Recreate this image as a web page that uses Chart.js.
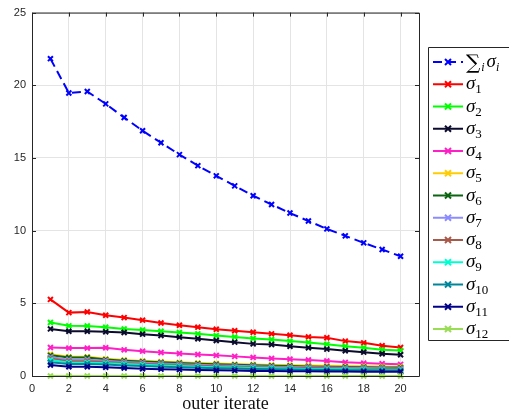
<!DOCTYPE html>
<html>
<head>
<meta charset="utf-8">
<script src="https://cdn.jsdelivr.net/npm/chart.js@4.4.1/dist/chart.umd.min.js"></script>
<style>
  html, body { margin: 0; padding: 0; background: #ffffff; }
  #wrap { width: 509px; height: 416px; position: relative; }
</style>
</head>
<body>
<div id="wrap"><canvas id="c" width="509" height="416"></canvas></div>
<script>
// outer iterations
const iterates = [1,2,3,4,5,6,7,8,9,10,11,12,13,14,15,16,17,18,19,20];

// singular values per outer iterate
const sumSigma = [21.83,19.47,19.57,18.72,17.78,16.87,16.05,15.23,14.47,13.77,13.08,12.40,11.80,11.21,10.66,10.12,9.64,9.16,8.70,8.24];
const sigma1  = [5.27,4.36,4.41,4.18,4.02,3.84,3.65,3.49,3.36,3.22,3.11,3.01,2.90,2.81,2.69,2.63,2.40,2.28,2.08,1.96];
const sigma2  = [3.68,3.45,3.44,3.36,3.24,3.17,3.08,2.99,2.90,2.78,2.69,2.58,2.51,2.40,2.31,2.19,2.05,1.94,1.80,1.76];
const sigma3  = [3.24,3.08,3.08,3.04,2.99,2.88,2.79,2.67,2.56,2.44,2.33,2.21,2.17,2.05,1.94,1.85,1.74,1.64,1.53,1.46];
const sigma4  = [1.96,1.92,1.92,1.94,1.80,1.71,1.62,1.55,1.48,1.42,1.35,1.28,1.21,1.16,1.10,1.03,0.94,0.89,0.84,0.80];
const sigma5  = [1.50,1.32,1.32,1.18,1.10,1.04,0.99,0.94,0.90,0.86,0.82,0.79,0.76,0.74,0.72,0.70,0.68,0.67,0.65,0.64];
const sigma6  = [1.42,1.28,1.28,1.13,1.05,0.99,0.94,0.89,0.85,0.81,0.77,0.74,0.71,0.69,0.66,0.64,0.62,0.61,0.59,0.58];
const sigma7  = [1.30,1.12,1.12,1.05,0.97,0.91,0.86,0.81,0.77,0.73,0.70,0.67,0.64,0.62,0.60,0.58,0.56,0.55,0.53,0.52];
const sigma8  = [1.20,1.02,1.02,0.96,0.89,0.84,0.79,0.75,0.71,0.67,0.64,0.61,0.59,0.57,0.55,0.53,0.51,0.50,0.48,0.47];
const sigma9  = [1.10,0.92,0.92,0.88,0.82,0.77,0.72,0.68,0.64,0.61,0.58,0.55,0.53,0.51,0.49,0.47,0.46,0.45,0.43,0.42];
const sigma10 = [0.95,0.83,0.83,0.79,0.73,0.68,0.64,0.60,0.57,0.54,0.51,0.49,0.47,0.45,0.43,0.41,0.40,0.39,0.38,0.37];
const sigma11 = [0.75,0.64,0.64,0.60,0.55,0.50,0.47,0.44,0.41,0.39,0.37,0.35,0.34,0.33,0.32,0.31,0.31,0.30,0.30,0.29];
const sigma12 = [0,0,0,0,0,0,0,0,0,0,0,0,0,0,0,0,0,0,0,0];

// axis ticks
const xTicks = [0,2,4,6,8,10,12,14,16,18,20];
const yTicks = [0,5,10,15,20,25];

// series: legend subscript, values, colour
const seriesList = [
  { sub: 'sum', values: sumSigma, color: '#0000ff', dashed: true },
  { sub: '1',  values: sigma1,  color: '#ff0000' },
  { sub: '2',  values: sigma2,  color: '#00ff00' },
  { sub: '3',  values: sigma3,  color: '#0b0b2e' },
  { sub: '4',  values: sigma4,  color: '#ff1fc6' },
  { sub: '5',  values: sigma5,  color: '#ffcc00' },
  { sub: '6',  values: sigma6,  color: '#0a6410' },
  { sub: '7',  values: sigma7,  color: '#8c8cff' },
  { sub: '8',  values: sigma8,  color: '#a85a4a' },
  { sub: '9',  values: sigma9,  color: '#00ffd0' },
  { sub: '10', values: sigma10, color: '#00869a' },
  { sub: '11', values: sigma11, color: '#000088' },
  { sub: '12', values: sigma12, color: '#99dd55' }
];

const AXIS_COLOR = '#262626';
const GRID_COLOR = '#e4e4e4';

const datasets = seriesList.map((s, i) => ({
  label: s.sub,
  data: iterates.map((x, k) => ({ x: x, y: s.values[k] })),
  borderColor: s.color,
  backgroundColor: s.color,
  borderWidth: 2,
  borderDash: s.dashed ? [9, 5] : [],
  pointStyle: 'crossRot',
  pointRadius: 3.5,
  pointBorderWidth: 2,
  pointHoverRadius: 3.5,
  tension: 0,
  clip: false,
  order: -i
}));

// box, inward tick marks, x-axis title and legend
const decorations = {
  id: 'decorations',
  afterDatasetsDraw(chart) {
    const ctx = chart.ctx;
    const a = chart.chartArea;
    const xs = chart.scales.x, ys = chart.scales.y;
    ctx.save();
    ctx.strokeStyle = AXIS_COLOR;
    ctx.lineWidth = 1;
    ctx.beginPath();
    ctx.moveTo(a.left + 0.5, a.bottom + 0.5);
    ctx.lineTo(a.left + 0.5, a.top + 0.5);
    ctx.lineTo(a.right + 0.5, a.top + 0.5);
    ctx.lineTo(a.right + 0.5, a.bottom + 0.5);
    ctx.lineTo(a.left + 0.5, a.bottom + 0.5);
    ctx.stroke();
    const tl = 4;
    ctx.beginPath();
    xTicks.forEach(v => {
      const px = Math.round(xs.getPixelForValue(v)) + 0.5;
      ctx.moveTo(px, a.bottom); ctx.lineTo(px, a.bottom - tl);
      ctx.moveTo(px, a.top); ctx.lineTo(px, a.top + tl);
    });
    yTicks.forEach(v => {
      const py = Math.round(ys.getPixelForValue(v)) + 0.5;
      ctx.moveTo(a.left, py); ctx.lineTo(a.left + tl, py);
      ctx.moveTo(a.right, py); ctx.lineTo(a.right - tl, py);
    });
    ctx.stroke();

    // x-axis title
    ctx.fillStyle = '#111111';
    ctx.font = '18px "Liberation Serif"';
    ctx.textAlign = 'center';
    ctx.textBaseline = 'alphabetic';
    ctx.fillText('outer iterate', (a.left + a.right) / 2, 409);

    // legend
    const lx = 428, ly = 47, lh = 293;
    ctx.fillStyle = '#ffffff';
    ctx.fillRect(lx, ly, 509 - lx, lh);
    ctx.strokeStyle = AXIS_COLOR;
    ctx.beginPath();
    ctx.moveTo(512, ly + 0.5);
    ctx.lineTo(lx + 0.5, ly + 0.5);
    ctx.lineTo(lx + 0.5, ly + lh + 0.5);
    ctx.lineTo(512, ly + lh + 0.5);
    ctx.stroke();

    seriesList.forEach((s, i) => {
      const cy = 62 + i * 22.25;
      ctx.strokeStyle = s.color;
      ctx.lineWidth = 2;
      ctx.setLineDash(s.dashed ? [9, 5] : []);
      ctx.beginPath();
      ctx.moveTo(433, cy); ctx.lineTo(463, cy);
      ctx.stroke();
      ctx.setLineDash([]);
      const m = 3;
      ctx.beginPath();
      ctx.moveTo(448 - m, cy - m); ctx.lineTo(448 + m, cy + m);
      ctx.moveTo(448 - m, cy + m); ctx.lineTo(448 + m, cy - m);
      ctx.stroke();

      ctx.fillStyle = '#000000';
      ctx.textAlign = 'left';
      ctx.textBaseline = 'alphabetic';
      let tx = 466;
      if (s.sub === 'sum') {
        ctx.font = '20px "DejaVu Serif"';
        ctx.fillText('\u2211', tx, cy + 7);
        tx += ctx.measureText('\u2211').width + 1;
        ctx.font = 'italic 12px "Liberation Serif"';
        ctx.fillText('i', tx, cy + 9);
        tx += ctx.measureText('i').width + 2;
        ctx.font = 'italic 19px "Liberation Serif"';
        ctx.fillText('\u03C3', tx, cy + 5);
        tx += ctx.measureText('\u03C3').width;
        ctx.font = 'italic 12px "Liberation Serif"';
        ctx.fillText('i', tx, cy + 9);
      } else {
        ctx.font = 'italic 19px "Liberation Serif"';
        ctx.fillText('\u03C3', tx, cy + 5);
        tx += ctx.measureText('\u03C3').width;
        ctx.font = '13px "Liberation Serif"';
        ctx.fillText(s.sub, tx, cy + 9);
      }
    });
    ctx.restore();
  }
};

new Chart(document.getElementById('c'), {
  type: 'line',
  data: { datasets: datasets },
  options: {
    responsive: false,
    animation: false,
    events: [],
    layout: { padding: { left: 0, right: 90, top: 12, bottom: 0 } },
    plugins: { legend: { display: false }, tooltip: { enabled: false } },
    scales: {
      x: {
        type: 'linear',
        min: 0, max: 21,
        afterFit: s => { s.height = 40; },
        afterBuildTicks: s => { s.ticks = xTicks.map(v => ({ value: v })); },
        grid: { color: GRID_COLOR, drawTicks: false, lineWidth: 1 },
        border: { display: false },
        ticks: { color: AXIS_COLOR, padding: 6, maxRotation: 0, font: { family: 'Liberation Sans', size: 11 } }
      },
      y: {
        type: 'linear',
        min: 0, max: 25,
        afterFit: s => { s.width = 32; },
        afterBuildTicks: s => { s.ticks = yTicks.map(v => ({ value: v })); },
        grid: { color: GRID_COLOR, drawTicks: false, lineWidth: 1 },
        border: { display: false },
        ticks: { color: AXIS_COLOR, padding: 6, font: { family: 'Liberation Sans', size: 11 } }
      }
    }
  },
  plugins: [decorations]
});
</script>
</body>
</html>
